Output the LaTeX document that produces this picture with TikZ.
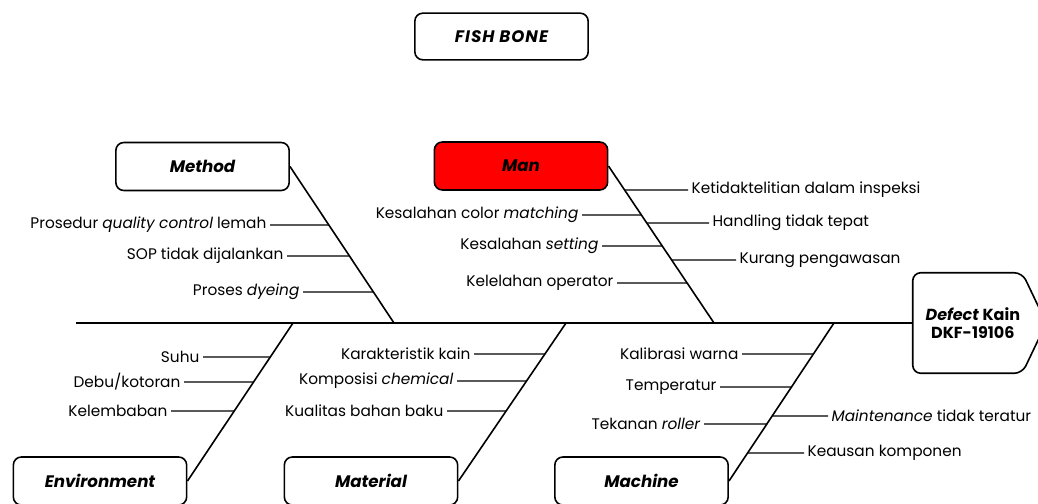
\documentclass[tikz,border=0pt]{standalone}
\usepackage{fontspec}
\setmainfont{Poppins}
\usetikzlibrary{positioning, calc}

\begin{document}
\begin{tikzpicture}[
    x=0.75pt, y=-0.75pt,
    font=\fontsize{11.5}{13}\selectfont,
    cat/.style={
      draw=black, line width=1.2pt, rounded corners=6pt,
      minimum width=130pt, minimum height=36pt,
      font=\fontsize{12.5}{14}\selectfont\bfseries\itshape
    },
    cause/.style={inner sep=2.5pt},
    bone/.style={line width=1.2pt},
    twig/.style={line width=1pt}
  ]
  \useasboundingbox (0,0) rectangle (1038,503);

  \node[cat, minimum height=35pt]  (title)    at (501.5,36.5) {\addfontfeature{LetterSpace=6}FISH BONE};
  \node[cat]                       (method)   at (202.5,166.5) {Method};
  \node[cat, fill=red]             (man)      at (521,166)   {Man};
  \node[cat]                       (env)      at (100,481)   {Environment};
  \node[cat]                       (material) at (371,481)   {Material};
  \node[cat]                       (machine)  at (641.5,481) {Machine};

  \node[minimum width=81.75pt, minimum height=75pt,
        label={[xshift=4pt, align=center, font=\fontsize{12}{14}\selectfont\bfseries]center:{\textit{Defect} Kain\\DKF-19106}}] (head) at (967.5,323) {};
  \draw[line width=1.2pt, rounded corners=6pt] ($(head.east)+(24,0)$) -- (head.north east) -- (head.north west)
    -- (head.south west) -- (head.south east) -- cycle;

  % spine and bones
  \coordinate (tail)      at (76,323);
  \coordinate (jMethod)   at (394,323);
  \coordinate (jMan)      at (714,323);
  \coordinate (jEnv)      at (293,323);
  \coordinate (jMaterial) at (566,323);
  \coordinate (jMachine)  at (834,323);

  \draw[bone] (tail) -- (head.west);
  \draw[bone] (method.east) -- (jMethod);
  \draw[bone] (man.east) -- (jMan);
  \draw[bone] (jEnv) -- (env.east);
  \draw[bone] (jMaterial) -- (material.east);
  \draw[bone] (jMachine) -- (machine.east);

  % method
  \node[cause, anchor=east] (me1) at (270,225) {Prosedur \textit{quality control} lemah};
  \node[cause, anchor=east] (me2) at (287,256) {SOP tidak dijalankan};
  \node[cause, anchor=east] (me3) at (303,292) {Proses \textit{dyeing}};
  \draw[twig] (me1.east) -- (intersection of method.east--jMethod and me1.west--me1.east);
  \draw[twig] (me2.east) -- (intersection of method.east--jMethod and me2.west--me2.east);
  \draw[twig] (me3.east) -- (intersection of method.east--jMethod and me3.west--me3.east);

  % man
  \node[cause, anchor=east] (ma1) at (582,215) {Kesalahan color \textit{matching}};
  \node[cause, anchor=east] (ma2) at (602,246) {Kesalahan \textit{setting}};
  \node[cause, anchor=east] (ma3) at (617,283) {Kelelahan operator};
  \node[cause, anchor=west] (ma4) at (688,190) {Ketidaktelitian dalam inspeksi};
  \node[cause, anchor=west] (ma5) at (709,223) {Handling tidak tepat};
  \node[cause, anchor=west] (ma6) at (736,260) {Kurang pengawasan};
  \draw[twig] (ma1.east) -- (intersection of man.east--jMan and ma1.west--ma1.east);
  \draw[twig] (ma2.east) -- (intersection of man.east--jMan and ma2.west--ma2.east);
  \draw[twig] (ma3.east) -- (intersection of man.east--jMan and ma3.west--ma3.east);
  \draw[twig] (ma4.west) -- (intersection of man.east--jMan and ma4.west--ma4.east);
  \draw[twig] (ma5.west) -- (intersection of man.east--jMan and ma5.west--ma5.east);
  \draw[twig] (ma6.west) -- (intersection of man.east--jMan and ma6.west--ma6.east);

  % environment
  \node[cause, anchor=east] (en1) at (203,357) {Suhu};
  \node[cause, anchor=east] (en2) at (184,382) {Debu/kotoran};
  \node[cause, anchor=east] (en3) at (171,411) {Kelembaban};
  \draw[twig] (en1.east) -- (intersection of jEnv--env.east and en1.west--en1.east);
  \draw[twig] (en2.east) -- (intersection of jEnv--env.east and en2.west--en2.east);
  \draw[twig] (en3.east) -- (intersection of jEnv--env.east and en3.west--en3.east);

  % material
  \node[cause, anchor=east] (mt1) at (474,354) {Karakteristik kain};
  \node[cause, anchor=east] (mt2) at (457,381) {Komposisi \textit{chemical}};
  \node[cause, anchor=east] (mt3) at (447,411) {Kualitas bahan baku};
  \draw[twig] (mt1.east) -- (intersection of jMaterial--material.east and mt1.west--mt1.east);
  \draw[twig] (mt2.east) -- (intersection of jMaterial--material.east and mt2.west--mt2.east);
  \draw[twig] (mt3.east) -- (intersection of jMaterial--material.east and mt3.west--mt3.east);

  % machine
  \node[cause, anchor=east] (mc1) at (742,354) {Kalibrasi warna};
  \node[cause, anchor=east] (mc2) at (720,387) {Temperatur};
  \node[cause, anchor=east] (mc3) at (704,424) {Tekanan \textit{roller}};
  \node[cause, anchor=west] (mc4) at (828,416) {\textit{Maintenance} tidak teratur};
  \node[cause, anchor=west] (mc5) at (804,453) {Keausan komponen};
  \draw[twig] (mc1.east) -- (intersection of jMachine--machine.east and mc1.west--mc1.east);
  \draw[twig] (mc2.east) -- (intersection of jMachine--machine.east and mc2.west--mc2.east);
  \draw[twig] (mc3.east) -- (intersection of jMachine--machine.east and mc3.west--mc3.east);
  \draw[twig] (mc4.west) -- (intersection of jMachine--machine.east and mc4.west--mc4.east);
  \draw[twig] (mc5.west) -- (intersection of jMachine--machine.east and mc5.west--mc5.east);
\end{tikzpicture}
\end{document}
